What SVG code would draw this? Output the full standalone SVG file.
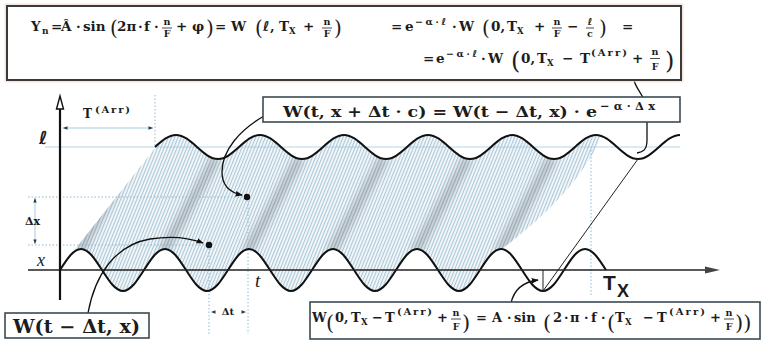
<svg xmlns="http://www.w3.org/2000/svg" width="762" height="343" viewBox="0 0 762 343">
<defs>
<style>
.m{font-family:"DejaVu Serif",serif;font-weight:bold;fill:#1c1c1c}
.p{font-family:"DejaVu Serif",serif;font-weight:normal;fill:#1c1c1c}
.l{font-family:"DejaVu Sans",sans-serif;font-weight:bold;font-style:italic}
.it{font-family:"Liberation Serif",serif;font-style:italic;fill:#1c1c1c}
.g{stroke:#9cc3dc;stroke-width:0.9;fill:none}
.d{stroke:#8dbad6;stroke-width:1;stroke-dasharray:1.5 2;fill:none}
.box{fill:#fff;stroke:#3b4a52;stroke-width:1.6}
.w{fill:none;stroke:#111;stroke-width:2}
.c{fill:none;stroke:#111;stroke-width:1.3}
.bar{stroke:#1c1c1c;stroke-width:0.8}
.sh{stroke:#3a4048;stroke-width:9;opacity:0.28;filter:url(#bl)}
.tri{fill:#2a3a44}
</style>
<pattern id="hp" width="3" height="12" patternUnits="userSpaceOnUse" patternTransform="rotate(22)"><rect width="3" height="12" fill="#f6f8f9"/><rect width="1.1" height="12" fill="#a9c7da"/></pattern>
<filter id="bl" x="-40%" y="-40%" width="180%" height="180%"><feGaussianBlur stdDeviation="3.5"/></filter>
<clipPath id="cA"><path d="M60,270 c6.85,-10.76 13.4,-21 21,-21 c7.6,0 14.15,10.24 21,21 c6.85,10.76 13.4,21 21,21 c7.6,0 14.15,-10.24 21,-21 c6.85,-10.76 13.4,-21 21,-21 c7.6,0 14.15,10.24 21,21 c6.85,10.76 13.4,21 21,21 c7.6,0 14.15,-10.24 21,-21 c6.85,-10.76 13.4,-21 21,-21 c7.6,0 14.15,10.24 21,21 c6.85,10.76 13.4,21 21,21 c7.6,0 14.15,-10.24 21,-21 c6.85,-10.76 13.4,-21 21,-21 c7.6,0 14.15,10.24 21,21 c6.85,10.76 13.4,21 21,21 c7.6,0 14.15,-10.24 21,-21 c6.85,-10.76 13.4,-21 21,-21 c7.6,0 14.15,10.24 21,21 c6.85,10.76 13.4,21 21,21 c7.6,0 14.15,-10.24 21,-21 c6.85,-10.76 13.4,-21 21,-21 c7.6,0 14.15,10.24 21,21 c6.85,10.76 13.4,21 21,21 c7.6,0 14.15,-10.24 21,-21 c6.85,-10.76 13.4,-21 21,-21 c7.6,0 14.15,10.24 21,21 L606,0 L60,0 Z"/></clipPath>
<clipPath id="cB"><path d="M0,147 L155,147 c6.85,-6.15 13.4,-12 21,-12 c7.6,0 14.15,5.85 21,12 c6.85,6.15 13.4,12 21,12 c7.6,0 14.15,-5.85 21,-12 c6.85,-6.15 13.4,-12 21,-12 c7.6,0 14.15,5.85 21,12 c6.85,6.15 13.4,12 21,12 c7.6,0 14.15,-5.85 21,-12 c6.85,-6.15 13.4,-12 21,-12 c7.6,0 14.15,5.85 21,12 c6.85,6.15 13.4,12 21,12 c7.6,0 14.15,-5.85 21,-12 c6.85,-6.15 13.4,-12 21,-12 c7.6,0 14.15,5.85 21,12 c6.85,6.15 13.4,12 21,12 c7.6,0 14.15,-5.85 21,-12 c6.85,-6.15 13.4,-12 21,-12 c7.6,0 14.15,5.85 21,12 c6.85,6.15 13.4,12 21,12 c7.6,0 14.15,-5.85 21,-12 c6.85,-6.15 13.4,-12 21,-12 c7.6,0 14.15,5.85 21,12 c6.85,6.15 13.4,12 21,12 c7.6,0 14.15,-5.85 21,-12 c6.85,-6.15 13.4,-12 21,-12 L680,343 L0,343 Z"/></clipPath>
<clipPath id="cC"><path d="M35,300 L193,100 L615,100 L600,138 C590,165 560,205 502,249 L480,300 Z"/></clipPath>
<marker id="ah" viewBox="0 0 10 10" refX="9" refY="5" markerWidth="7" markerHeight="7" markerUnits="userSpaceOnUse" orient="auto"><path d="M0,1 L10,5 L0,9 z" fill="#111"/></marker>
</defs>
<rect width="762" height="343" fill="#fff"/>

<g id="surface">
<g clip-path="url(#cA)"><g clip-path="url(#cB)"><g clip-path="url(#cC)">
<rect x="30" y="100" width="600" height="200" fill="url(#hp)"/>
<line class="sh" x1="79" y1="252" x2="132" y2="158"/>
<line class="sh" x1="163" y1="252" x2="216" y2="158"/>
<line class="sh" x1="247" y1="252" x2="300" y2="158"/>
<line class="sh" x1="331" y1="252" x2="384" y2="158"/>
<line class="sh" x1="415" y1="252" x2="468" y2="158"/>
<line class="sh" x1="499" y1="252" x2="552" y2="158"/>
</g></g></g>
</g>

<g id="guides">
<line class="g" x1="45" y1="147" x2="680" y2="147" opacity="0.8"/>
<line class="d" x1="155" y1="95" x2="155" y2="147"/>
<line class="g" x1="63" y1="128" x2="153" y2="128"/>
<polygon class="tri" points="63,128 67.5,126.3 67.5,129.7"/>
<polygon class="tri" points="153,128 148.5,126.3 148.5,129.7"/>
<line class="d" x1="28" y1="197" x2="244" y2="197"/>
<line class="d" x1="28" y1="245" x2="206" y2="245"/>
<line class="g" x1="35" y1="198" x2="35" y2="244"/>
<polygon class="tri" points="35,198 33.3,202.5 36.7,202.5"/>
<polygon class="tri" points="35,244 33.3,239.5 36.7,239.5"/>
<line class="d" x1="209" y1="245" x2="209" y2="334"/>
<line class="d" x1="248" y1="197" x2="248" y2="334"/>
<polygon class="tri" points="211,312 215.5,310.3 215.5,313.7"/>
<polygon class="tri" points="246,312 241.5,310.3 241.5,313.7"/>
<line class="d" x1="591" y1="150" x2="591" y2="295"/>
</g>

<g id="waves">
<path class="w" d="M60,270 c6.85,-10.76 13.4,-21 21,-21 c7.6,0 14.15,10.24 21,21 c6.85,10.76 13.4,21 21,21 c7.6,0 14.15,-10.24 21,-21 c6.85,-10.76 13.4,-21 21,-21 c7.6,0 14.15,10.24 21,21 c6.85,10.76 13.4,21 21,21 c7.6,0 14.15,-10.24 21,-21 c6.85,-10.76 13.4,-21 21,-21 c7.6,0 14.15,10.24 21,21 c6.85,10.76 13.4,21 21,21 c7.6,0 14.15,-10.24 21,-21 c6.85,-10.76 13.4,-21 21,-21 c7.6,0 14.15,10.24 21,21 c6.85,10.76 13.4,21 21,21 c7.6,0 14.15,-10.24 21,-21 c6.85,-10.76 13.4,-21 21,-21 c7.6,0 14.15,10.24 21,21 c6.85,10.76 13.4,21 21,21 c7.6,0 14.15,-10.24 21,-21 c6.85,-10.76 13.4,-21 21,-21 c7.6,0 14.15,10.24 21,21 c6.85,10.76 13.4,21 21,21 c7.6,0 14.15,-10.24 21,-21 c6.85,-10.76 13.4,-21 21,-21 c7.6,0 14.15,10.24 21,21"/>
<path class="w" d="M155,147 c6.85,-6.15 13.4,-12 21,-12 c7.6,0 14.15,5.85 21,12 c6.85,6.15 13.4,12 21,12 c7.6,0 14.15,-5.85 21,-12 c6.85,-6.15 13.4,-12 21,-12 c7.6,0 14.15,5.85 21,12 c6.85,6.15 13.4,12 21,12 c7.6,0 14.15,-5.85 21,-12 c6.85,-6.15 13.4,-12 21,-12 c7.6,0 14.15,5.85 21,12 c6.85,6.15 13.4,12 21,12 c7.6,0 14.15,-5.85 21,-12 c6.85,-6.15 13.4,-12 21,-12 c7.6,0 14.15,5.85 21,12 c6.85,6.15 13.4,12 21,12 c7.6,0 14.15,-5.85 21,-12 c6.85,-6.15 13.4,-12 21,-12 c7.6,0 14.15,5.85 21,12 c6.85,6.15 13.4,12 21,12 c7.6,0 14.15,-5.85 21,-12 c6.85,-6.15 13.4,-12 21,-12 c7.6,0 14.15,5.85 21,12 c6.85,6.15 13.4,12 21,12 c7.6,0 14.15,-5.85 21,-12 c6.85,-6.15 13.4,-12 21,-12"/>
</g>

<g id="axes">
<line x1="28" y1="270" x2="710" y2="270" stroke="#222" stroke-width="1.6"/>
<polygon points="705,266.5 720,270 705,273.5" fill="#444"/>
<line x1="60" y1="300" x2="60" y2="106" stroke="#111" stroke-width="2.2"/>
<polygon points="56.5,109 60,96 63.5,109" fill="#fff" stroke="#111" stroke-width="1.4"/>
</g>

<g id="connectors">
<line x1="543" y1="291" x2="638" y2="159" stroke="#222" stroke-width="1"/>
<line x1="543" y1="270" x2="543" y2="290" stroke="#222" stroke-width="1"/>
<path class="c" d="M88,313 C95,275 115,245 150,239 C175,235 190,238 203,243" marker-end="url(#ah)"/>
<path class="c" d="M264,116 C240,130 222,150 222,172 C222,188 232,193 242,195" marker-end="url(#ah)"/>
<path class="c" d="M511,303 C514,290 522,282 538,280" marker-end="url(#ah)"/>
<path class="c" d="M634,80 C636,90 645,95 647,110 L647,140 C647,150 643,152 637,153" stroke-width="1.1"/>
</g>

<g id="points">
<circle cx="209" cy="245" r="3.2" fill="#111"/>
<circle cx="247" cy="197" r="3.2" fill="#111"/>
</g>

<g id="labels">
<text class="m" x="83" y="118" font-size="12">T</text>
<text class="m" x="95" y="113" font-size="10" textLength="35">(Arr)</text>
<text class="m l" x="39" y="144" font-size="18">ℓ</text>
<text class="m" x="25" y="225" font-size="11">Δx</text>
<text class="it" x="37" y="266" font-size="18">x</text>
<text class="it" x="255" y="287" font-size="19">t</text>
<text class="m" x="228" y="315" font-size="10" text-anchor="middle">Δt</text>
<text x="603" y="290" font-family="Liberation Sans, sans-serif" font-weight="bold" font-size="21" fill="#1c1c1c">T</text>
<text x="617" y="297" font-family="Liberation Sans, sans-serif" font-weight="bold" font-size="18" fill="#1c1c1c">X</text>
</g>

<g id="formula-top">
<rect x="7" y="6" width="674" height="74" fill="none" stroke="#f2d6c8" stroke-width="5" opacity="0.6"/>
<rect x="7" y="6" width="674" height="74" fill="#fff" stroke="#3a3a3a" stroke-width="2"/>
<text class="m" font-size="13.5"><tspan x="31" y="31">Y</tspan><tspan x="42" y="34" font-size="9">n</tspan><tspan x="51" y="31">=</tspan><tspan x="61" y="31">Â</tspan><tspan x="76" y="31">·</tspan><tspan x="83" y="31">sin</tspan><tspan x="117" y="31">2π</tspan><tspan x="138" y="31">·</tspan><tspan x="144" y="31">f</tspan><tspan x="154" y="31">·</tspan><tspan x="176" y="31">+</tspan><tspan x="192" y="31">φ</tspan><tspan x="215" y="31">=</tspan><tspan x="231" y="31">W</tspan><tspan class="l" x="263" y="31">ℓ</tspan><tspan x="270" y="31">,</tspan><tspan x="279" y="31">T</tspan><tspan x="289" y="34" font-size="8.5">X</tspan><tspan x="303" y="31">+</tspan><tspan x="391" y="31">=</tspan><tspan x="405" y="31">e</tspan><tspan x="452" y="31">·</tspan><tspan x="459" y="31">W</tspan><tspan x="491" y="31">0,</tspan><tspan x="507" y="31">T</tspan><tspan x="517" y="34" font-size="8.5">X</tspan><tspan x="534" y="31">+</tspan><tspan x="567" y="31">−</tspan><tspan x="622" y="31">=</tspan></text>
<text class="m" x="415" y="25" font-size="9.5" textLength="31">−α·<tspan class="l">ℓ</tspan></text>
<text class="p" font-size="20"><tspan x="110" y="35">(</tspan><tspan x="206" y="35">)</tspan><tspan x="255" y="35">(</tspan><tspan x="334" y="35">)</tspan><tspan x="482" y="35">(</tspan><tspan x="599" y="35">)</tspan></text>
<text class="m" font-size="9.5" text-anchor="middle"><tspan x="167" y="25">n</tspan><tspan x="167" y="37">F</tspan><tspan x="327" y="25">n</tspan><tspan x="327" y="37">F</tspan><tspan x="557" y="25">n</tspan><tspan x="557" y="37">F</tspan><tspan class="l" x="590" y="25">ℓ</tspan><tspan x="590" y="37">c</tspan></text>
<line class="bar" x1="162" y1="28" x2="172" y2="28"/>
<line class="bar" x1="322" y1="28" x2="332" y2="28"/>
<line class="bar" x1="552" y1="28" x2="562" y2="28"/>
<line class="bar" x1="586" y1="28" x2="594" y2="28"/>
<text class="m" font-size="13.5"><tspan x="423" y="63">=</tspan><tspan x="436" y="63">e</tspan><tspan x="481" y="63">·</tspan><tspan x="488" y="63">W</tspan><tspan x="521" y="63">0,</tspan><tspan x="537" y="63">T</tspan><tspan x="547" y="66" font-size="8.5">X</tspan><tspan x="562" y="63">−</tspan><tspan x="580" y="63">T</tspan><tspan x="632" y="63">+</tspan></text>
<text class="m" x="446" y="57" font-size="9.5" textLength="31">−α·<tspan class="l">ℓ</tspan></text>
<text class="m" x="591" y="56" font-size="10" textLength="36">(Arr)</text>
<text class="p" font-size="24"><tspan x="511" y="69">(</tspan><tspan x="665" y="69">)</tspan></text>
<text class="m" font-size="9.5" text-anchor="middle"><tspan x="655" y="55">n</tspan><tspan x="655" y="70">F</tspan></text>
<line class="bar" x1="650" y1="58.5" x2="660" y2="58.5"/>
</g>

<g id="formula-middle">
<rect class="box" x="263" y="97" width="417" height="25"/>
<text class="m" x="283" y="117" font-size="15.5" textLength="314" lengthAdjust="spacingAndGlyphs">W(t, x + Δt · c) = W(t − Δt, x) · e</text>
<text class="m" x="600" y="110" font-size="11.5" textLength="55">−α·Δx</text>
</g>

<g id="formula-left">
<rect class="box" x="5" y="313" width="144" height="25"/>
<text class="m" x="13" y="333" font-size="18" textLength="127" lengthAdjust="spacingAndGlyphs">W(t − Δt, x)</text>
</g>

<g id="formula-bottom">
<rect class="box" x="310" y="302" width="450" height="37"/>
<text class="m" font-size="13"><tspan x="312" y="322">W</tspan><tspan x="335" y="322">0,</tspan><tspan x="351" y="322">T</tspan><tspan x="361" y="325" font-size="8.5">X</tspan><tspan x="372" y="322">−</tspan><tspan x="385" y="322">T</tspan><tspan x="437" y="322">+</tspan><tspan x="476" y="322">=</tspan><tspan x="492" y="322">A</tspan><tspan x="507" y="322">·</tspan><tspan x="514" y="322">sin</tspan><tspan x="553" y="322">2</tspan><tspan x="564" y="322">·</tspan><tspan x="570" y="322">π</tspan><tspan x="584" y="322">·</tspan><tspan x="591" y="322">f</tspan><tspan x="601" y="322">·</tspan><tspan x="615" y="322">T</tspan><tspan x="625" y="325" font-size="8.5">X</tspan><tspan x="643" y="322">−</tspan><tspan x="657" y="322">T</tspan><tspan x="710" y="322">+</tspan></text>
<text class="m" x="397" y="315" font-size="10" textLength="35">(Arr)</text>
<text class="m" x="669" y="315" font-size="10" textLength="36">(Arr)</text>
<text class="p" font-size="21"><tspan x="326" y="330">(</tspan><tspan x="462" y="330">)</tspan><tspan x="543" y="330">(</tspan><tspan x="607" y="330">(</tspan><tspan x="735" y="330">))</tspan></text>
<text class="m" font-size="9.5" text-anchor="middle"><tspan x="456" y="316">n</tspan><tspan x="456" y="330">F</tspan><tspan x="729" y="316">n</tspan><tspan x="729" y="330">F</tspan></text>
<line class="bar" x1="451" y1="319" x2="461" y2="319"/>
<line class="bar" x1="724" y1="319" x2="734" y2="319"/>
</g>
</svg>
